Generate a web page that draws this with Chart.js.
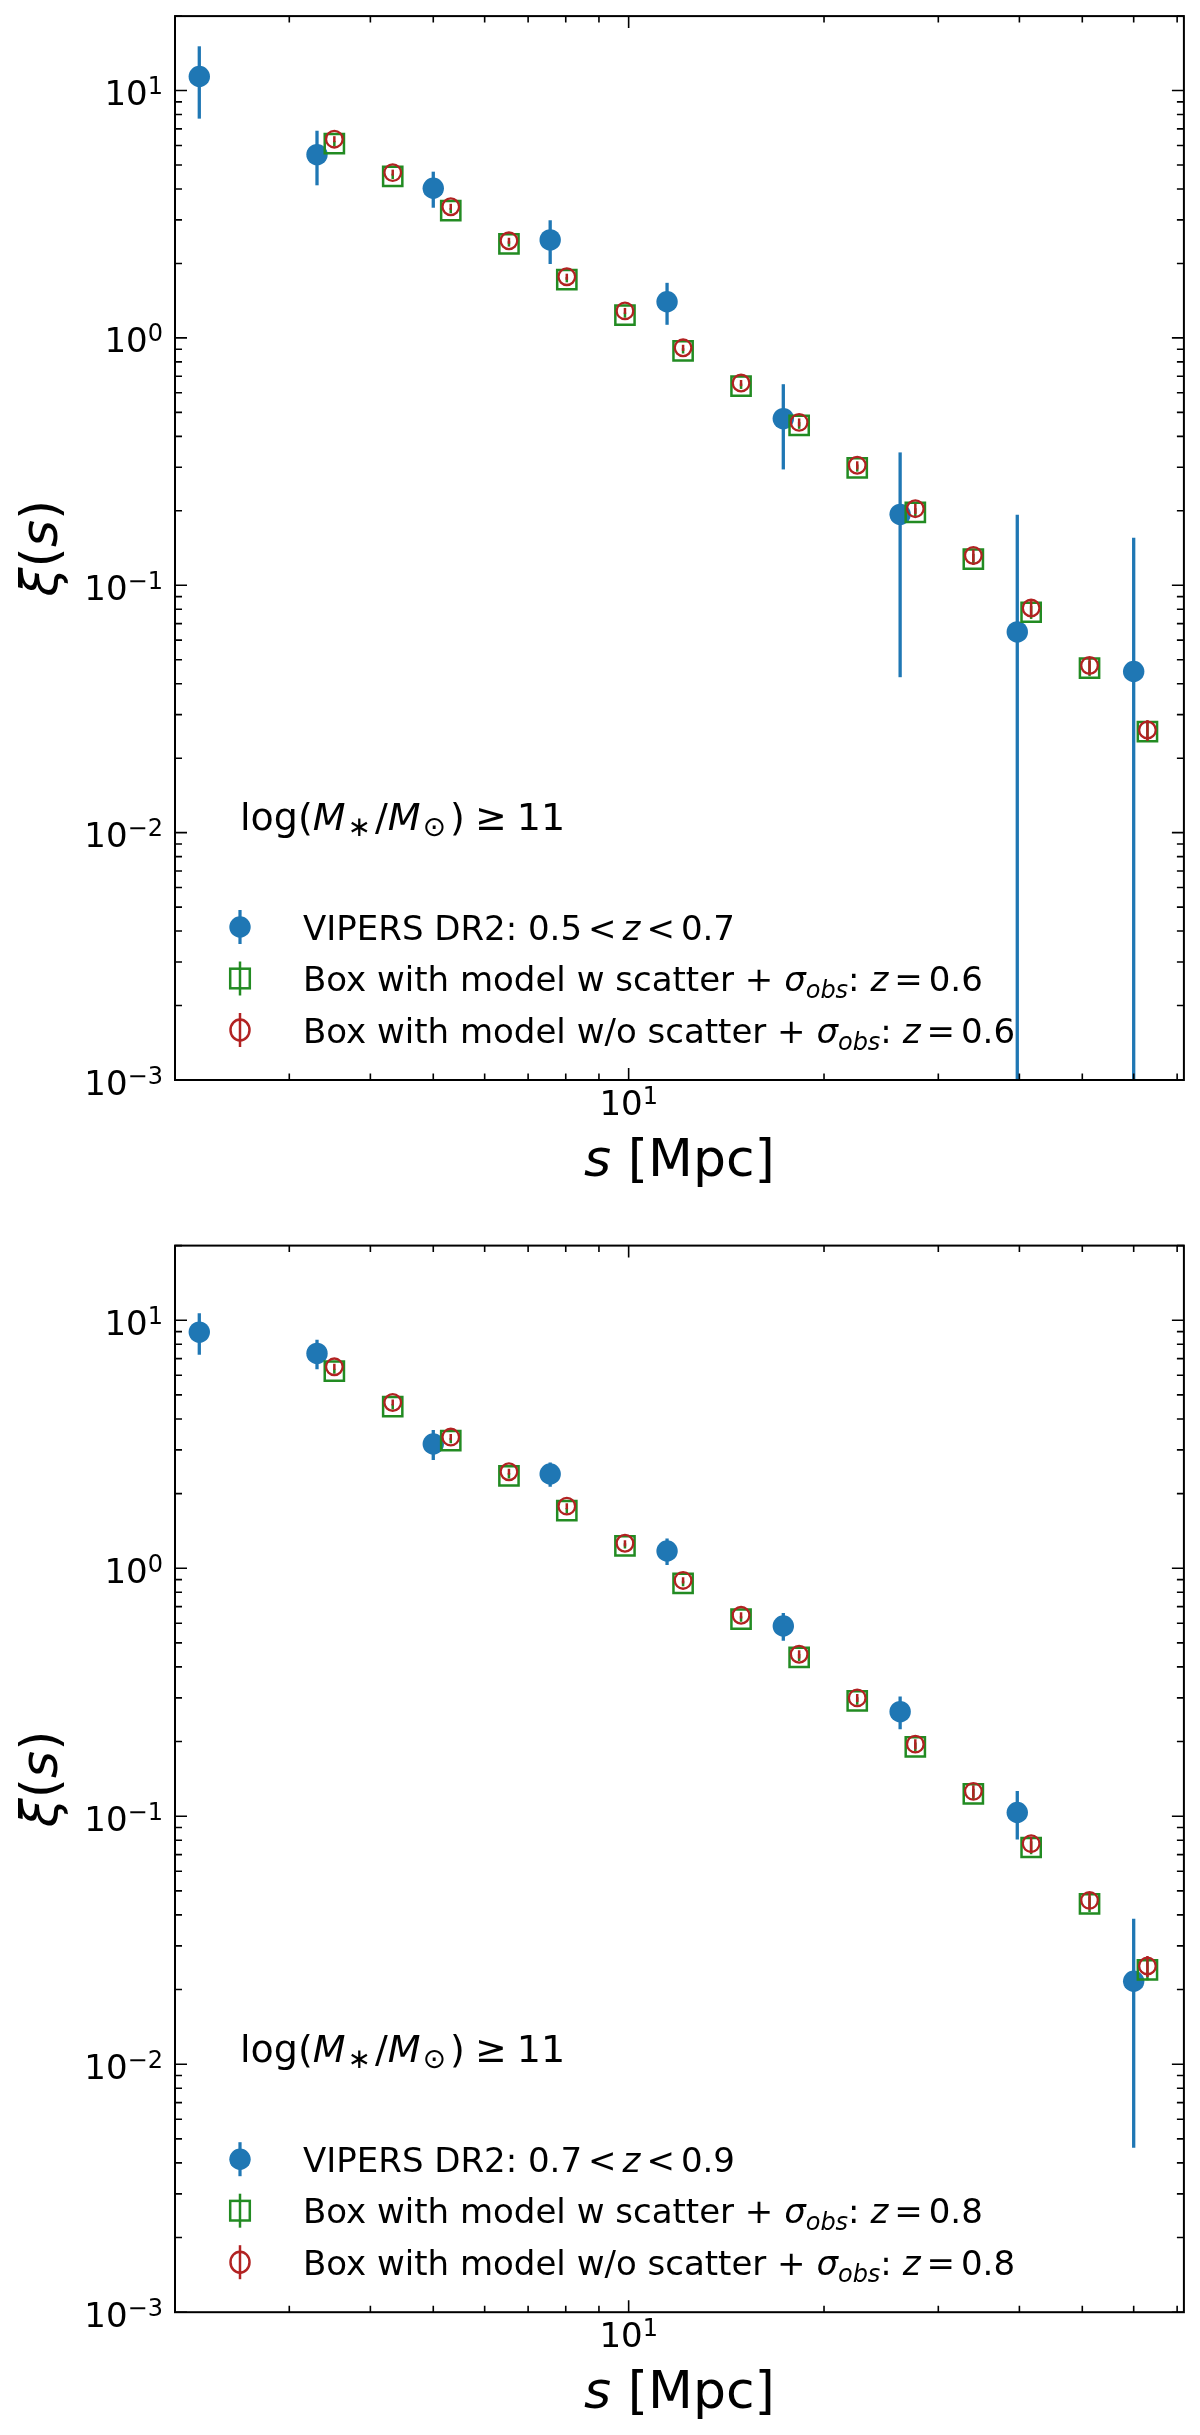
<!DOCTYPE html>
<html>
<head>
<meta charset="utf-8">
<script src="https://cdn.jsdelivr.net/npm/chart.js@4.4.1/dist/chart.umd.min.js"></script>
<style>
  body { margin: 0; background: #fff; }
  .panel { position: absolute; left: 0; width: 1200px; }
</style>
</head>
<body>
<div class="panel" style="top:0;height:1220px"><canvas id="topChart" width="1200" height="1220"></canvas></div>
<div class="panel" style="top:1220px;height:1215px"><canvas id="bottomChart" width="1200" height="1215"></canvas></div>
<script>
// separations s [Mpc]
const vipersS = [2.18, 3.31, 5.0, 7.57, 11.46, 17.31, 26.2, 39.7, 60.0];
const modelS = [3.52, 4.33, 5.32, 6.54, 8.03, 9.87, 12.13, 14.9, 18.31, 22.5, 27.65, 33.97, 41.7, 51.3, 63.0];

// upper panel, 0.5 < z < 0.7
const vipersXiA = [11.4, 5.51, 4.03, 2.49, 1.40, 0.472, 0.1935, 0.0648, 0.0448];
const vipersErrA = [3.7, 1.37, 0.67, 0.50, 0.27, 0.178, 0.151, 0.128, 0.111];
const scatterXiA = [6.10, 4.50, 3.27, 2.40, 1.72, 1.237, 0.887, 0.638, 0.443, 0.298, 0.197, 0.1275, 0.0778, 0.0462, 0.0256];
const scatterErrA = [0.15, 0.11, 0.08, 0.06, 0.042, 0.03, 0.022, 0.016, 0.014, 0.010, 0.008, 0.0065, 0.0047, 0.0033, 0.0023];
const noScatterXiA = [6.36, 4.66, 3.39, 2.47, 1.768, 1.286, 0.912, 0.657, 0.4556, 0.3056, 0.204, 0.132, 0.0809, 0.0474, 0.026];
const noScatterErrA = [0.18, 0.13, 0.095, 0.07, 0.05, 0.036, 0.026, 0.019, 0.017, 0.0116, 0.0096, 0.0075, 0.0054, 0.0037, 0.0025];

// lower panel, 0.7 < z < 0.9
const vipersXiB = [8.96, 7.35, 3.17, 2.40, 1.174, 0.585, 0.264, 0.1035, 0.0216];
const vipersErrB = [1.7, 1.0, 0.44, 0.27, 0.143, 0.075, 0.040, 0.023, 0.017];
const scatterXiB = [6.23, 4.48, 3.27, 2.36, 1.706, 1.23, 0.868, 0.624, 0.437, 0.2917, 0.1905, 0.123, 0.0748, 0.0443, 0.024];
const scatterErrB = [0.15, 0.11, 0.08, 0.06, 0.042, 0.03, 0.022, 0.016, 0.014, 0.010, 0.008, 0.0062, 0.0045, 0.0032, 0.0022];
const noScatterXiB = [6.49, 4.66, 3.38, 2.45, 1.78, 1.261, 0.893, 0.646, 0.45, 0.30, 0.1953, 0.126, 0.0775, 0.0458, 0.0249];
const noScatterErrB = [0.18, 0.13, 0.095, 0.07, 0.05, 0.036, 0.026, 0.019, 0.017, 0.0114, 0.0092, 0.0072, 0.0052, 0.0036, 0.0024];

// ticks
const xMajorTicks = [10];
const xMinorTicks = [2, 3, 4, 5, 6, 7, 8, 9, 20, 30, 40, 50, 60, 70];
const yDecades = [-3, -2, -1, 0, 1];
const yTickExp = ['\u22123', '\u22122', '\u22121', '0', '1'];

const BLUE = '#1f77b4';
const GREEN = '#228b22';
const RED = '#b22222';
const FONT = '"DejaVu Sans"';

function toPoints(xs, ys) {
  return xs.map((x, i) => ({ x: x, y: ys[i] }));
}

function richWidth(ctx, parts) {
  let w = 0;
  for (const p of parts) {
    if (p.gap) { w += p.gap; continue; }
    ctx.font = (p.i ? 'italic ' : '') + (p.s || 34) + 'px ' + FONT;
    w += ctx.measureText(p.t).width;
  }
  return w;
}

function drawRich(ctx, x, y, parts) {
  for (const p of parts) {
    if (p.gap) { x += p.gap; continue; }
    ctx.font = (p.i ? 'italic ' : '') + (p.s || 34) + 'px ' + FONT;
    ctx.fillText(p.t, x, y + (p.dy || 0));
    x += ctx.measureText(p.t).width;
  }
  return x;
}

// error bars drawn just under each dataset's own markers
const errorBars = {
  id: 'errorBars',
  beforeDatasetDraw(chart, args) {
    const ds = chart.data.datasets[args.index];
    if (!ds.err) return;
    const ctx = chart.ctx, xs = chart.scales.x, ys = chart.scales.y, area = chart.chartArea;
    ctx.save();
    ctx.beginPath();
    ctx.rect(area.left, area.top, area.right - area.left, area.bottom - area.top);
    ctx.clip();
    ctx.strokeStyle = ds.errColor;
    ctx.lineWidth = ds.errWidth;
    ds.data.forEach((pt, i) => {
      const e = ds.err[i];
      const px = xs.getPixelForValue(pt.x);
      const top = ys.getPixelForValue(pt.y + e);
      const bot = pt.y - e > 0 ? ys.getPixelForValue(pt.y - e) : area.bottom + 10;
      ctx.beginPath();
      ctx.moveTo(px, top);
      ctx.lineTo(px, bot);
      ctx.stroke();
    });
    ctx.restore();
  }
};

const frame = {
  id: 'frame',
  afterDraw(chart) {
    const ctx = chart.ctx, xs = chart.scales.x, ys = chart.scales.y, a = chart.chartArea;
    const opt = chart.options.plugins.frame;
    ctx.save();
    ctx.strokeStyle = '#000';
    ctx.fillStyle = '#000';

    // ticks, inward on all sides
    ctx.lineWidth = 1.6;
    ctx.beginPath();
    const xt = xMajorTicks.map(v => [v, 12]).concat(xMinorTicks.map(v => [v, 6.5]));
    xt.forEach(([v, len]) => {
      if (v < xs.min || v > xs.max) return;
      const px = xs.getPixelForValue(v);
      ctx.moveTo(px, a.bottom); ctx.lineTo(px, a.bottom - len);
      ctx.moveTo(px, a.top); ctx.lineTo(px, a.top + len);
    });
    yDecades.forEach(k => {
      for (let m = 1; m <= 9; m++) {
        const v = m * Math.pow(10, k);
        if (v < ys.min * 0.999 || v > ys.max) continue;
        const py = ys.getPixelForValue(v);
        const len = m === 1 ? 12 : 7;
        ctx.moveTo(a.left, py); ctx.lineTo(a.left + len, py);
        ctx.moveTo(a.right, py); ctx.lineTo(a.right - len, py);
      }
    });
    ctx.stroke();

    // frame
    ctx.lineWidth = 2;
    ctx.strokeRect(a.left, a.top, a.right - a.left, a.bottom - a.top);

    // y tick labels
    ctx.textBaseline = 'alphabetic';
    yDecades.forEach((k, i) => {
      const py = ys.getPixelForValue(Math.pow(10, k));
      const parts = [{ t: '10', s: 34 }, { t: yTickExp[i], s: 24, dy: -11 }];
      const w = richWidth(ctx, parts);
      drawRich(ctx, a.left - 12 - w, py + 14.5, parts);
    });
    // x tick label
    xMajorTicks.forEach(v => {
      const px = xs.getPixelForValue(v);
      const parts = [{ t: '10', s: 34 }, { t: '1', s: 24, dy: -11 }];
      const w = richWidth(ctx, parts);
      drawRich(ctx, px - w / 2, a.bottom + 35, parts);
    });

    // axis titles
    const xl = [{ t: 's', s: 52, i: true }, { t: ' [Mpc]', s: 52 }];
    drawRich(ctx, (a.left + a.right) / 2 - richWidth(ctx, xl) / 2, a.bottom + 96, xl);
    const yl = [{ t: '\u03be', s: 52, i: true }, { t: '(', s: 52 }, { t: 's', s: 52, i: true }, { t: ')', s: 52 }];
    ctx.save();
    ctx.translate(57, (a.top + a.bottom) / 2);
    ctx.rotate(-Math.PI / 2);
    drawRich(ctx, -richWidth(ctx, yl) / 2, 0, yl);
    ctx.restore();

    // mass threshold annotation
    drawRich(ctx, 240, a.bottom - 250, [
      { t: 'log(', s: 38 }, { t: 'M', s: 38, i: true }, { gap: 2 }, { t: '\u2217', s: 28, dy: 6 }, { gap: 4 },
      { t: '/', s: 38 }, { t: 'M', s: 38, i: true }, { gap: 2 }, { t: '\u2299', s: 28, dy: 6 }, { gap: 4 },
      { t: ')', s: 38 }, { gap: 10 }, { t: '\u2265', s: 38 }, { gap: 10 }, { t: '11', s: 38 }
    ]);

    // legend
    const rows = [
      [{ t: 'VIPERS DR2: ' + opt.zRange[0] }, { gap: 6 }, { t: '<' }, { gap: 6 }, { t: 'z', i: true }, { gap: 6 }, { t: '<' }, { gap: 6 }, { t: opt.zRange[1] }],
      [{ t: 'Box with model w scatter + ' }, { t: '\u03c3', i: true }, { t: 'obs', i: true, s: 24, dy: 7 }, { t: ': ' }, { t: 'z', i: true }, { gap: 6 }, { t: '=' }, { gap: 6 }, { t: opt.zMid }],
      [{ t: 'Box with model w/o scatter + ' }, { t: '\u03c3', i: true }, { t: 'obs', i: true, s: 24, dy: 7 }, { t: ': ' }, { t: 'z', i: true }, { gap: 6 }, { t: '=' }, { gap: 6 }, { t: opt.zMid }]
    ];
    rows.forEach((parts, r) => {
      const cy = a.bottom - 153 + r * 51.5;
      const mx = 240;
      ctx.fillStyle = '#000';
      drawRich(ctx, 303, cy + 12.5, parts);
      if (r === 0) {
        ctx.strokeStyle = BLUE; ctx.fillStyle = BLUE; ctx.lineWidth = 3.2;
        ctx.beginPath(); ctx.moveTo(mx, cy - 17); ctx.lineTo(mx, cy + 17); ctx.stroke();
        ctx.beginPath(); ctx.arc(mx, cy, 10.7, 0, Math.PI * 2); ctx.fill();
      } else if (r === 1) {
        ctx.strokeStyle = GREEN; ctx.lineWidth = 2.5;
        ctx.beginPath(); ctx.moveTo(mx, cy - 17); ctx.lineTo(mx, cy + 17); ctx.stroke();
        ctx.strokeRect(mx - 9.8, cy - 9.8, 19.6, 19.6);
      } else {
        ctx.strokeStyle = RED; ctx.lineWidth = 2.5;
        ctx.beginPath(); ctx.moveTo(mx, cy - 17); ctx.lineTo(mx, cy + 17); ctx.stroke();
        ctx.beginPath(); ctx.ellipse(mx, cy, 9.5, 10.5, 0, 0, Math.PI * 2); ctx.stroke();
      }
      ctx.fillStyle = '#000';
    });
    ctx.restore();
  }
};

function makePanel(id, p) {
  return new Chart(document.getElementById(id), {
    type: 'scatter',
    data: {
      datasets: [
        {
          label: 'VIPERS DR2',
          data: toPoints(vipersS, p.vipersXi),
          err: p.vipersErr, errColor: BLUE, errWidth: 3.3,
          pointStyle: 'circle', pointRadius: 10.7, pointHoverRadius: 10.7,
          backgroundColor: BLUE, borderWidth: 0, order: 3
        },
        {
          label: 'Box with model w scatter',
          data: toPoints(modelS, p.scatterXi),
          err: p.scatterErr, errColor: GREEN, errWidth: 2.5,
          pointStyle: 'rect', pointRadius: 13.6, pointHoverRadius: 13.6,
          backgroundColor: 'rgba(0,0,0,0)', borderColor: GREEN, borderWidth: 2.5, order: 2
        },
        {
          label: 'Box with model w/o scatter',
          data: toPoints(modelS, p.noScatterXi),
          err: p.noScatterErr, errColor: RED, errWidth: 2.5,
          pointStyle: 'circle', pointRadius: 8.3, pointHoverRadius: 8.3,
          backgroundColor: 'rgba(0,0,0,0)', borderColor: RED, borderWidth: 2.3, order: 1
        }
      ]
    },
    options: {
      responsive: false,
      animation: false,
      devicePixelRatio: 1,
      layout: { padding: { left: 175, right: 10, top: p.padTop, bottom: p.padBottom } },
      plugins: {
        legend: { display: false },
        tooltip: { enabled: false },
        frame: { zRange: p.zRange, zMid: p.zMid }
      },
      scales: {
        x: { type: 'logarithmic', min: 2, max: 71.7, display: false },
        y: { type: 'logarithmic', min: 1e-3, max: 20, display: false }
      }
    },
    plugins: [errorBars, frame]
  });
}

makePanel('topChart', {
  vipersXi: vipersXiA, vipersErr: vipersErrA,
  scatterXi: scatterXiA, scatterErr: scatterErrA,
  noScatterXi: noScatterXiA, noScatterErr: noScatterErrA,
  zRange: ['0.5', '0.7'], zMid: '0.6',
  padTop: 13, padBottom: 140
});
makePanel('bottomChart', {
  vipersXi: vipersXiB, vipersErr: vipersErrB,
  scatterXi: scatterXiB, scatterErr: scatterErrB,
  noScatterXi: noScatterXiB, noScatterErr: noScatterErrB,
  zRange: ['0.7', '0.9'], zMid: '0.8',
  padTop: 25.6, padBottom: 122.8
});
</script>
</body>
</html>
